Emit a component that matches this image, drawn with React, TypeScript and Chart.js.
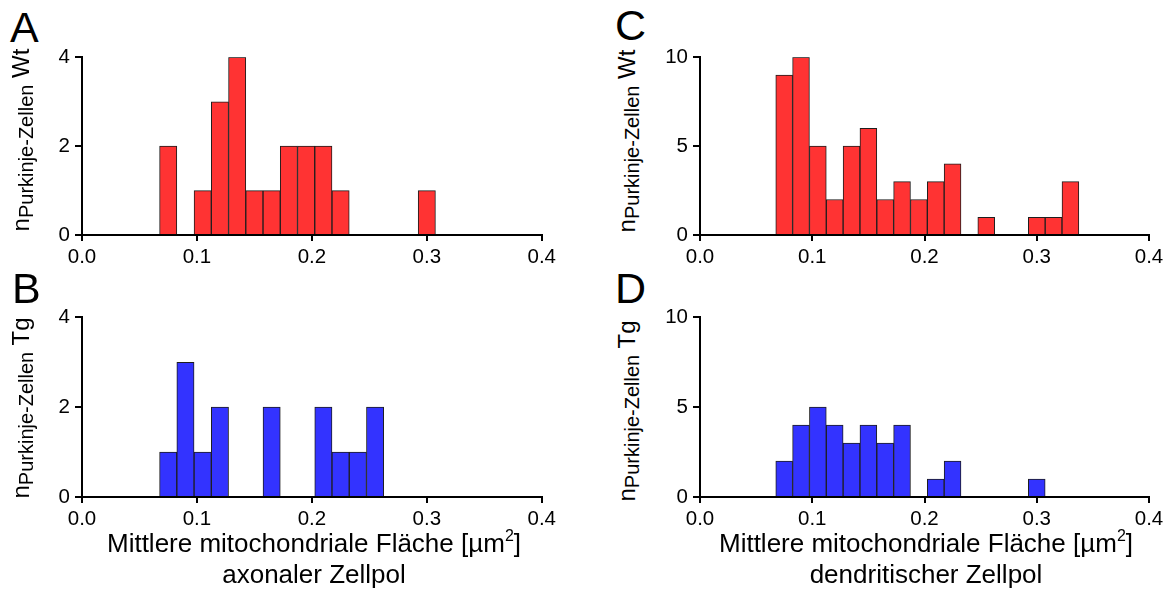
import React, { useEffect, useRef } from "react";
import { Chart, registerables } from "chart.js";

Chart.register(...registerables);

// Bin centres (bin width 0.015 µm²)
const binCenters = [0.075, 0.09, 0.105, 0.12, 0.135, 0.15, 0.165, 0.18, 0.195, 0.21, 0.225, 0.24, 0.255, 0.27, 0.285, 0.3, 0.315, 0.33];
const countsAxonalWt = [2, 0, 1, 3, 4, 1, 1, 2, 2, 2, 1, 0, 0, 0, 0, 1, 0, 0];
const countsAxonalTg = [1, 3, 1, 2, 0, 0, 2, 0, 0, 2, 1, 1, 2, 0, 0, 0, 0, 0];
const countsDendriticWt = [9, 10, 5, 2, 5, 6, 2, 3, 2, 3, 4, 0, 1, 0, 0, 1, 1, 3];
const countsDendriticTg = [2, 4, 5, 4, 3, 4, 3, 4, 0, 1, 2, 0, 0, 0, 0, 1, 0, 0];
const xTicks = [0, 0.1, 0.2, 0.3, 0.4];
const yTicksAxonal = [0, 2, 4];
const yTicksDendritic = [0, 5, 10];

const FONT = "'Liberation Sans', Arial, Helvetica, sans-serif";
const RED = "#ff3333";
const BLUE = "#3333ff";

type Area = { left: number; right: number; top: number; bottom: number };

function Histogram(props: {
  counts: number[];
  yTicks: number[];
  color: string;
  left: number;
  top: number;
  width: number;
  height: number;
  area: Area;
}) {
  const ref = useRef<HTMLCanvasElement | null>(null);
  const { counts, yTicks, color, left, top, width, height, area } = props;

  useEffect(() => {
    if (!ref.current) return;
    const tickFont = { family: FONT, size: 20.5 };
    const chart = new Chart(ref.current, {
      type: "bar",
      data: {
        datasets: [
          {
            data: binCenters.map((x, i) => ({ x, y: counts[i] > 0 ? counts[i] : null })) as any,
            backgroundColor: color,
            borderColor: "#1e1e1e",
            borderWidth: 1,
            barPercentage: 1,
            categoryPercentage: 1,
          },
        ],
      },
      options: {
        animation: false,
        responsive: false,
        maintainAspectRatio: false,
        layout: {
          padding: {
            top: area.top - top,
            right: left + width - area.right,
            left: 0,
            bottom: 0,
          },
        },
        plugins: { legend: { display: false }, tooltip: { enabled: false } },
        scales: {
          x: {
            type: "linear",
            min: xTicks[0],
            max: xTicks[xTicks.length - 1],
            offset: false,
            afterBuildTicks: (s: any) => {
              s.ticks = xTicks.map((v) => ({ value: v }));
            },
            afterFit: (s: any) => {
              s.height = top + height - area.bottom;
            },
            ticks: {
              callback: (v: any) => Number(v).toFixed(1),
              font: tickFont,
              color: "#000",
              padding: 4,
              maxRotation: 0,
              autoSkip: false,
            },
            grid: {
              offset: false,
              drawOnChartArea: false,
              drawTicks: true,
              tickLength: 6,
              color: "#000",
              lineWidth: 2,
            },
            border: { display: true, color: "#000", width: 2 },
          },
          y: {
            type: "linear",
            min: yTicks[0],
            max: yTicks[yTicks.length - 1],
            afterBuildTicks: (s: any) => {
              s.ticks = yTicks.map((v) => ({ value: v }));
            },
            afterFit: (s: any) => {
              s.width = area.left - left;
            },
            ticks: {
              callback: (v: any) => String(v),
              font: tickFont,
              color: "#000",
              padding: 5,
            },
            grid: {
              drawOnChartArea: false,
              drawTicks: true,
              tickLength: 7,
              color: "#000",
              lineWidth: 2,
            },
            border: { display: true, color: "#000", width: 2 },
          },
        },
      } as any,
    });
    return () => chart.destroy();
  }, [counts, yTicks, color, left, top, width, height, area]);

  return (
    <canvas
      ref={ref}
      width={width}
      height={height}
      style={{ position: "absolute", left, top, width, height }}
    />
  );
}

function PanelLetter({ text, left, top }: { text: string; left: number; top: number }) {
  return (
    <div
      style={{
        position: "absolute",
        left,
        top,
        fontFamily: FONT,
        fontSize: 43,
        lineHeight: 1,
        color: "#000",
      }}
    >
      {text}
    </div>
  );
}

function YTitle({ group, cx, cy }: { group: string; cx: number; cy: number }) {
  return (
    <div style={{ position: "absolute", left: cx, top: cy, width: 0, height: 0 }}>
      <div
        style={{
          position: "absolute",
          left: 0,
          top: 0,
          transform: "translate(-50%, -50%) rotate(-90deg)",
          whiteSpace: "nowrap",
          fontFamily: FONT,
          fontSize: 24,
          lineHeight: 1,
          color: "#000",
        }}
      >
        n
        <span style={{ fontSize: 20, position: "relative", top: 4 }}>Purkinje-Zellen</span>
        {" " + group}
      </div>
    </div>
  );
}

function XTitle({ line2, cx }: { line2: string; cx: number }) {
  const common: React.CSSProperties = {
    position: "absolute",
    left: cx,
    transform: "translateX(-50%)",
    whiteSpace: "nowrap",
    fontFamily: FONT,
    fontSize: 26,
    lineHeight: 1,
    color: "#000",
    textAlign: "center",
  };
  return (
    <>
      <div style={{ ...common, top: 530 }}>
        Mittlere mitochondriale Fläche [µm
        <span style={{ fontSize: 16, position: "relative", top: -11 }}>2</span>]
      </div>
      <div style={{ ...common, top: 561 }}>{line2}</div>
    </>
  );
}

const areaA: Area = { left: 82, right: 543, top: 54, bottom: 235 };
const areaB: Area = { left: 82, right: 543, top: 316, bottom: 497 };
const areaC: Area = { left: 700, right: 1149, top: 54, bottom: 235 };
const areaD: Area = { left: 700, right: 1149, top: 316, bottom: 497 };

export default function App() {
  return (
    <div
      style={{
        position: "absolute",
        left: 0,
        top: 0,
        width: 1170,
        height: 603,
        background: "#fff",
        overflow: "hidden",
      }}
    >
      <Histogram counts={countsAxonalWt} yTicks={yTicksAxonal} color={RED} left={40} top={40} width={520} height={250} area={areaA} />
      <Histogram counts={countsAxonalTg} yTicks={yTicksAxonal} color={BLUE} left={40} top={300} width={520} height={250} area={areaB} />
      <Histogram counts={countsDendriticWt} yTicks={yTicksDendritic} color={RED} left={658} top={40} width={512} height={250} area={areaC} />
      <Histogram counts={countsDendriticTg} yTicks={yTicksDendritic} color={BLUE} left={658} top={300} width={512} height={250} area={areaD} />

      <PanelLetter text="A" left={10} top={6} />
      <PanelLetter text="B" left={12} top={267} />
      <PanelLetter text="C" left={615} top={4} />
      <PanelLetter text="D" left={615} top={267} />

      <YTitle group="Wt" cx={21} cy={140} />
      <YTitle group="Tg" cx={21} cy={408} />
      <YTitle group="Wt" cx={627} cy={141} />
      <YTitle group="Tg" cx={627} cy={411} />

      <XTitle line2="axonaler Zellpol" cx={314} />
      <XTitle line2="dendritischer Zellpol" cx={926} />
    </div>
  );
}
